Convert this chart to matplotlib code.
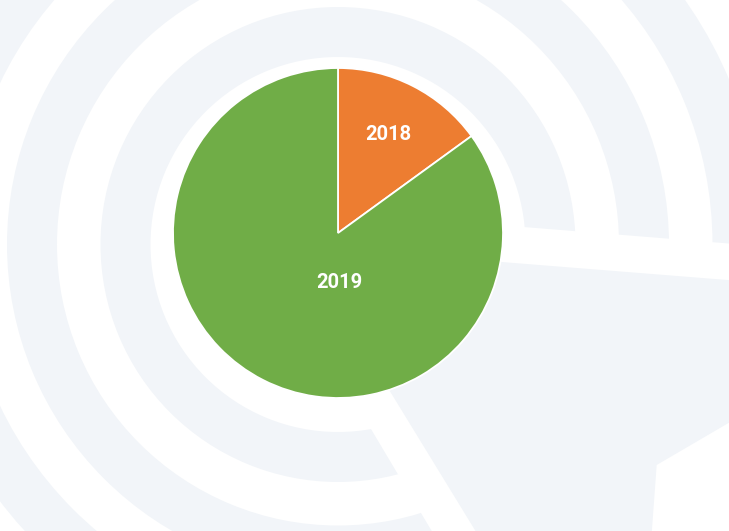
import numpy as np
import matplotlib
matplotlib.use("Agg")
import matplotlib.pyplot as plt
from matplotlib.patches import Wedge, Polygon

# pie data
labels = ["2018", "2019"]
values = [15, 85]
colors = ["#ED7D31", "#70AD47"]

W, H = 729, 531
bg_color = "#f2f5f9"

fig = plt.figure(figsize=(W / 100, H / 100), dpi=100)
ax = fig.add_axes([0, 0, 1, 1])

def img(x, y):
    # image pixel coords (y down) -> data coords (y up)
    return (x, H - y)

# background decoration: concentric rings with an exploded wedge
ring_center = img(338, 244.5)
for r_in in [187.5, 281.0, 374.5]:
    ax.add_patch(Wedge(ring_center, r_in + 50, 0, 360, width=50,
                       facecolor=bg_color, edgecolor="none", zorder=0))

cut = [img(237, 204), img(760, 246), img(760, 560), img(449, 560)]
ax.add_patch(Polygon(cut, closed=True, facecolor="white", edgecolor="none", zorder=1))

wedge_pts = [img(301, 246), img(740, 281), img(740, 416.3), img(656.7, 465),
             img(651.2, 540), img(481, 540)]
ax.add_patch(Polygon(wedge_pts, closed=True, facecolor=bg_color, edgecolor="none", zorder=2))

# the pie itself
wedges, texts = ax.pie(values, labels=labels, colors=colors, startangle=90,
                       counterclock=False, center=img(338, 233), radius=165,
                       labeldistance=0.67, frame=True,
                       wedgeprops=dict(edgecolor="white", linewidth=1.3),
                       textprops=dict(color="white", fontsize=14.5, fontweight="bold",
                                      family=["Roboto", "DejaVu Sans"]))
for w in wedges:
    w.set_zorder(3)
for t in texts:
    t.set_zorder(4)
    t.set_ha("center")
    t.set_va("center")
# Excel-style placement of the big slice's label near the centre
texts[1].set_position(img(339, 282))

ax.set_xlim(0, W)
ax.set_ylim(0, H)
ax.set_aspect("auto")
ax.axis("off")

fig.savefig("out.png", dpi=100, facecolor="white")
